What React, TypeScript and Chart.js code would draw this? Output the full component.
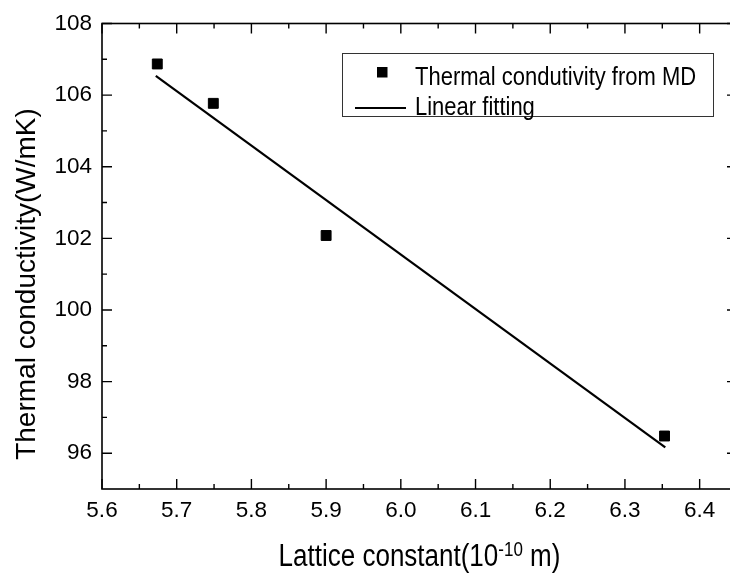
import React, { useEffect, useRef } from "react";
import { Chart, registerables } from "chart.js";

Chart.register(...registerables);

// ---- data ----
const xTickValues = [5.6, 5.7, 5.8, 5.9, 6.0, 6.1, 6.2, 6.3, 6.4];
const yTickValues = [96, 98, 100, 102, 104, 106, 108];
const mdX = [5.674, 5.749, 5.9, 6.353];
const mdY = [106.87, 105.77, 102.08, 96.48];
const fitX = [5.672, 6.354];
const fitY = [106.54, 96.16];
const seriesLabels = ["Thermal condutivity from MD", "Linear fitting"];
const xTitleMain = "Lattice constant(10";
const xTitleSup = "-10";
const xTitleEnd = " m)";
const yTitle = "Thermal conductivity(W/mK)";

const FONT = "'Liberation Sans', Arial, sans-serif";

function scaledText(ctx: CanvasRenderingContext2D, text: string, x: number, y: number, sy: number) {
  ctx.save();
  ctx.translate(x, y);
  ctx.scale(1, sy);
  ctx.fillText(text, 0, 0);
  ctx.restore();
}

const decorPlugin = {
  id: "decor",
  afterDraw(chart: any) {
    const ctx: CanvasRenderingContext2D = chart.ctx;
    const { left, right, top, bottom } = chart.chartArea;
    const xs = chart.scales.x;
    const ys = chart.scales.y;
    ctx.save();
    ctx.strokeStyle = "#000";
    ctx.lineWidth = 1.6;
    ctx.strokeRect(left, top, right - left, bottom - top);

    const major = 10;
    const minor = 5;
    ctx.lineWidth = 1.4;
    ctx.beginPath();
    const xMinor: number[] = [];
    for (let i = 0; i < xTickValues.length - 1; i++) xMinor.push((xTickValues[i] + xTickValues[i + 1]) / 2);
    const yMinor: number[] = [];
    for (let i = 0; i < yTickValues.length - 1; i++) yMinor.push((yTickValues[i] + yTickValues[i + 1]) / 2);
    const vx = (v: number, len: number) => {
      const p = xs.getPixelForValue(v);
      ctx.moveTo(p, bottom);
      ctx.lineTo(p, bottom - len);
      ctx.moveTo(p, top);
      ctx.lineTo(p, top + len);
    };
    const vy = (v: number, len: number) => {
      const p = ys.getPixelForValue(v);
      ctx.moveTo(left, p);
      ctx.lineTo(left + len, p);
      ctx.moveTo(right, p);
      ctx.lineTo(right - len, p);
    };
    xTickValues.forEach((v) => vx(v, major));
    xMinor.forEach((v) => vx(v, minor));
    yTickValues.forEach((v) => vy(v, major));
    yMinor.forEach((v) => vy(v, minor));
    ctx.stroke();

    // axis titles
    ctx.fillStyle = "#000";
    ctx.textBaseline = "alphabetic";
    ctx.textAlign = "left";
    const mainFont = `26px ${FONT}`;
    const supFont = `17px ${FONT}`;
    ctx.font = mainFont;
    const w1 = ctx.measureText(xTitleMain).width;
    const w3 = ctx.measureText(xTitleEnd).width;
    ctx.font = supFont;
    const w2 = ctx.measureText(xTitleSup).width;
    const total = w1 + w2 + w3;
    let x0 = (left + right) / 2 - total / 2;
    const base = 566;
    ctx.font = mainFont;
    scaledText(ctx, xTitleMain, x0, base, 1.2);
    ctx.font = supFont;
    scaledText(ctx, xTitleSup, x0 + w1, base - 10.5, 1.2);
    ctx.font = mainFont;
    scaledText(ctx, xTitleEnd, x0 + w1 + w2, base, 1.2);

    ctx.save();
    ctx.font = `28px ${FONT}`;
    ctx.textAlign = "center";
    ctx.translate(35, 284);
    ctx.rotate(-Math.PI / 2);
    ctx.fillText(yTitle, 0, 0);
    ctx.restore();

    // legend
    const ds = chart.data.datasets;
    ctx.lineWidth = 1;
    ctx.strokeStyle = "#333";
    ctx.strokeRect(342.5, 53.5, 371, 63);
    ctx.fillStyle = ds[0].backgroundColor;
    ctx.fillRect(377, 67, 10.5, 10.5);
    ctx.strokeStyle = ds[1].borderColor;
    ctx.lineWidth = 2;
    ctx.beginPath();
    ctx.moveTo(355, 108);
    ctx.lineTo(406, 108);
    ctx.stroke();
    ctx.fillStyle = "#000";
    ctx.font = `22px ${FONT}`;
    ctx.textAlign = "left";
    scaledText(ctx, ds[0].label, 415, 85, 1.2);
    scaledText(ctx, ds[1].label, 415, 115, 1.2);
    ctx.restore();
  },
};

export default function App() {
  const ref = useRef<HTMLCanvasElement | null>(null);
  useEffect(() => {
    if (!ref.current) return;
    const chart = new Chart(ref.current, {
      type: "scatter",
      data: {
        datasets: [
          {
            label: seriesLabels[0],
            data: mdX.map((x, i) => ({ x, y: mdY[i] })),
            backgroundColor: "#000",
            borderColor: "#000",
            pointStyle: "rect",
            pointRadius: 7,
            pointBorderWidth: 1,
            showLine: false,
            order: 0,
          },
          {
            type: "line",
            label: seriesLabels[1],
            data: fitX.map((x, i) => ({ x, y: fitY[i] })),
            borderColor: "#000",
            backgroundColor: "#000",
            borderWidth: 2.2,
            pointRadius: 0,
            showLine: true,
            fill: false,
            order: 1,
          } as any,
        ],
      },
      options: {
        animation: false,
        responsive: false,
        devicePixelRatio: 1,
        layout: { padding: { top: 16, right: 8, left: 0, bottom: 0 } },
        plugins: { legend: { display: false }, tooltip: { enabled: false }, title: { display: false } },
        scales: {
          x: {
            type: "linear",
            min: 5.6,
            max: 6.45,
            grid: { display: false, drawTicks: false },
            border: { display: false },
            afterBuildTicks: (s: any) => {
              s.ticks = xTickValues.map((v) => ({ value: v }));
            },
            afterFit: (s: any) => {
              s.height = 90;
            },
            ticks: {
              autoSkip: false,
              maxRotation: 0,
              padding: 8,
              color: "#000",
              font: { family: FONT, size: 22.5 },
              callback: (v: any) => Number(v).toFixed(1),
            },
          },
          y: {
            type: "linear",
            min: 95,
            max: 108,
            grid: { display: false, drawTicks: false },
            border: { display: false },
            afterBuildTicks: (s: any) => {
              s.ticks = yTickValues.map((v) => ({ value: v }));
            },
            afterFit: (s: any) => {
              s.width = 102;
            },
            ticks: {
              autoSkip: false,
              padding: 10,
              color: "#000",
              font: { family: FONT, size: 22.5 },
              callback: (v: any) => String(v),
            },
          },
        },
      } as any,
      plugins: [decorPlugin],
    });
    return () => chart.destroy();
  }, []);
  return (
    <div
      style={{
        position: "fixed",
        left: 0,
        top: 0,
        width: 730,
        height: 579,
        overflow: "hidden",
        background: "#fff",
      }}
    >
      <canvas ref={ref} width={745} height={579} style={{ display: "block" }} />
    </div>
  );
}
